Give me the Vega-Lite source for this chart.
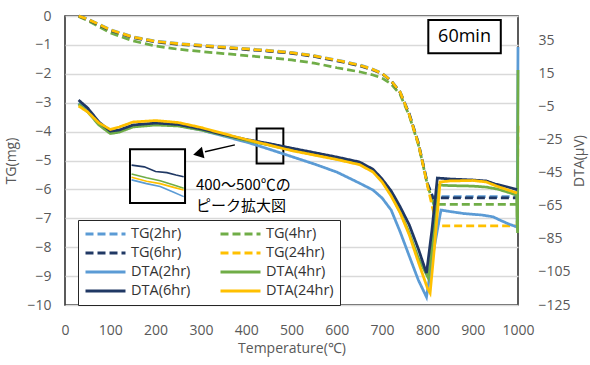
{
  "$schema": "https://vega.github.io/schema/vega-lite/v6.json",
  "width": 453,
  "height": 289,
  "autosize": {"type": "none"},
  "padding": {"left": 65, "top": 16, "right": 72, "bottom": 60},
  "background": "white",
  "config": {
    "view": {"stroke": "#262626", "strokeWidth": 1.5},
    "font": "Open Sans",
    "axis": {"labelFont": "Open Sans", "labelFontSize": 14, "labelColor": "#595959", "titleFont": "Open Sans", "titleFontSize": 14, "titleFontWeight": "normal", "titleColor": "#595959", "ticks": false, "domain": false, "labelFlush": false},
    "legend": {"orient": "none", "legendX": 13, "legendY": 204, "direction": "horizontal", "columns": 2, "symbolType": "stroke", "symbolSize": 1600, "clipHeight": 16, "symbolStrokeWidth": 3, "labelFont": "Open Sans", "labelFontSize": 14.5, "labelColor": "#333333", "strokeColor": "#262626", "fillColor": "white", "padding": 6, "rowPadding": 3, "columnPadding": 28, "labelOffset": 4, "labelLimit": 200}
  },
  "datasets": {
    "tg": [
      {"T": 30, "TG": 0, "series": "TG(2hr)"}, {"T": 50, "TG": -0.1, "series": "TG(2hr)"}, {"T": 100, "TG": -0.47, "series": "TG(2hr)"}, {"T": 150, "TG": -0.72, "series": "TG(2hr)"}, {"T": 200, "TG": -0.87, "series": "TG(2hr)"}, {"T": 250, "TG": -0.95, "series": "TG(2hr)"}, {"T": 300, "TG": -1.01, "series": "TG(2hr)"}, {"T": 350, "TG": -1.07, "series": "TG(2hr)"}, {"T": 400, "TG": -1.13, "series": "TG(2hr)"}, {"T": 450, "TG": -1.19, "series": "TG(2hr)"}, {"T": 500, "TG": -1.26, "series": "TG(2hr)"}, {"T": 550, "TG": -1.37, "series": "TG(2hr)"}, {"T": 600, "TG": -1.52, "series": "TG(2hr)"}, {"T": 650, "TG": -1.69, "series": "TG(2hr)"}, {"T": 680, "TG": -1.84, "series": "TG(2hr)"}, {"T": 700, "TG": -1.98, "series": "TG(2hr)"}, {"T": 720, "TG": -2.23, "series": "TG(2hr)"}, {"T": 740, "TG": -2.63, "series": "TG(2hr)"}, {"T": 760, "TG": -3.38, "series": "TG(2hr)"}, {"T": 780, "TG": -4.38, "series": "TG(2hr)"}, {"T": 790, "TG": -5.08, "series": "TG(2hr)"}, {"T": 800, "TG": -5.78, "series": "TG(2hr)"}, {"T": 812, "TG": -6.25, "series": "TG(2hr)"}, {"T": 1000, "TG": -6.25, "series": "TG(2hr)"},
      {"T": 30, "TG": -0.02, "series": "TG(4hr)"}, {"T": 50, "TG": -0.16, "series": "TG(4hr)"}, {"T": 100, "TG": -0.58, "series": "TG(4hr)"}, {"T": 150, "TG": -0.86, "series": "TG(4hr)"}, {"T": 200, "TG": -1.04, "series": "TG(4hr)"}, {"T": 250, "TG": -1.15, "series": "TG(4hr)"}, {"T": 300, "TG": -1.23, "series": "TG(4hr)"}, {"T": 350, "TG": -1.3, "series": "TG(4hr)"}, {"T": 400, "TG": -1.37, "series": "TG(4hr)"}, {"T": 450, "TG": -1.44, "series": "TG(4hr)"}, {"T": 500, "TG": -1.52, "series": "TG(4hr)"}, {"T": 550, "TG": -1.63, "series": "TG(4hr)"}, {"T": 600, "TG": -1.79, "series": "TG(4hr)"}, {"T": 650, "TG": -1.93, "series": "TG(4hr)"}, {"T": 680, "TG": -2.04, "series": "TG(4hr)"}, {"T": 700, "TG": -2.15, "series": "TG(4hr)"}, {"T": 720, "TG": -2.35, "series": "TG(4hr)"}, {"T": 740, "TG": -2.72, "series": "TG(4hr)"}, {"T": 760, "TG": -3.45, "series": "TG(4hr)"}, {"T": 780, "TG": -4.45, "series": "TG(4hr)"}, {"T": 790, "TG": -5.12, "series": "TG(4hr)"}, {"T": 800, "TG": -5.85, "series": "TG(4hr)"}, {"T": 814, "TG": -6.52, "series": "TG(4hr)"}, {"T": 1000, "TG": -6.52, "series": "TG(4hr)"},
      {"T": 30, "TG": 0, "series": "TG(6hr)"}, {"T": 50, "TG": -0.12, "series": "TG(6hr)"}, {"T": 100, "TG": -0.5, "series": "TG(6hr)"}, {"T": 150, "TG": -0.75, "series": "TG(6hr)"}, {"T": 200, "TG": -0.9, "series": "TG(6hr)"}, {"T": 250, "TG": -0.98, "series": "TG(6hr)"}, {"T": 300, "TG": -1.04, "series": "TG(6hr)"}, {"T": 350, "TG": -1.1, "series": "TG(6hr)"}, {"T": 400, "TG": -1.16, "series": "TG(6hr)"}, {"T": 450, "TG": -1.22, "series": "TG(6hr)"}, {"T": 500, "TG": -1.29, "series": "TG(6hr)"}, {"T": 550, "TG": -1.4, "series": "TG(6hr)"}, {"T": 600, "TG": -1.55, "series": "TG(6hr)"}, {"T": 650, "TG": -1.72, "series": "TG(6hr)"}, {"T": 680, "TG": -1.87, "series": "TG(6hr)"}, {"T": 700, "TG": -2.0, "series": "TG(6hr)"}, {"T": 720, "TG": -2.25, "series": "TG(6hr)"}, {"T": 740, "TG": -2.65, "series": "TG(6hr)"}, {"T": 760, "TG": -3.4, "series": "TG(6hr)"}, {"T": 780, "TG": -4.4, "series": "TG(6hr)"}, {"T": 790, "TG": -5.1, "series": "TG(6hr)"}, {"T": 800, "TG": -5.8, "series": "TG(6hr)"}, {"T": 812, "TG": -6.29, "series": "TG(6hr)"}, {"T": 1000, "TG": -6.29, "series": "TG(6hr)"},
      {"T": 30, "TG": 0, "series": "TG(24hr)"}, {"T": 50, "TG": -0.11, "series": "TG(24hr)"}, {"T": 100, "TG": -0.48, "series": "TG(24hr)"}, {"T": 150, "TG": -0.73, "series": "TG(24hr)"}, {"T": 200, "TG": -0.88, "series": "TG(24hr)"}, {"T": 250, "TG": -0.96, "series": "TG(24hr)"}, {"T": 300, "TG": -1.02, "series": "TG(24hr)"}, {"T": 350, "TG": -1.08, "series": "TG(24hr)"}, {"T": 400, "TG": -1.14, "series": "TG(24hr)"}, {"T": 450, "TG": -1.2, "series": "TG(24hr)"}, {"T": 500, "TG": -1.27, "series": "TG(24hr)"}, {"T": 550, "TG": -1.38, "series": "TG(24hr)"}, {"T": 600, "TG": -1.53, "series": "TG(24hr)"}, {"T": 650, "TG": -1.7, "series": "TG(24hr)"}, {"T": 680, "TG": -1.85, "series": "TG(24hr)"}, {"T": 700, "TG": -1.99, "series": "TG(24hr)"}, {"T": 720, "TG": -2.24, "series": "TG(24hr)"}, {"T": 740, "TG": -2.64, "series": "TG(24hr)"}, {"T": 760, "TG": -3.42, "series": "TG(24hr)"}, {"T": 780, "TG": -4.42, "series": "TG(24hr)"}, {"T": 790, "TG": -5.12, "series": "TG(24hr)"}, {"T": 800, "TG": -5.85, "series": "TG(24hr)"}, {"T": 810, "TG": -6.55, "series": "TG(24hr)"}, {"T": 818, "TG": -7.05, "series": "TG(24hr)"}, {"T": 826, "TG": -7.26, "series": "TG(24hr)"}, {"T": 998, "TG": -7.26, "series": "TG(24hr)"}, {"T": 1000, "TG": -3.8, "series": "TG(24hr)"}
    ],
    "dta": [
      {"T": 30, "DTA": -2.7, "series": "DTA(2hr)"}, {"T": 50, "DTA": -7.5, "series": "DTA(2hr)"}, {"T": 75, "DTA": -15.4, "series": "DTA(2hr)"}, {"T": 100, "DTA": -20.6, "series": "DTA(2hr)"}, {"T": 120, "DTA": -19.7, "series": "DTA(2hr)"}, {"T": 150, "DTA": -16.6, "series": "DTA(2hr)"}, {"T": 200, "DTA": -15.4, "series": "DTA(2hr)"}, {"T": 250, "DTA": -16.3, "series": "DTA(2hr)"}, {"T": 300, "DTA": -19.0, "series": "DTA(2hr)"}, {"T": 350, "DTA": -22.7, "series": "DTA(2hr)"}, {"T": 400, "DTA": -26.3, "series": "DTA(2hr)"}, {"T": 450, "DTA": -30.6, "series": "DTA(2hr)"}, {"T": 500, "DTA": -35.1, "series": "DTA(2hr)"}, {"T": 550, "DTA": -39.6, "series": "DTA(2hr)"}, {"T": 600, "DTA": -44.5, "series": "DTA(2hr)"}, {"T": 650, "DTA": -51.2, "series": "DTA(2hr)"}, {"T": 680, "DTA": -55.4, "series": "DTA(2hr)"}, {"T": 700, "DTA": -60.2, "series": "DTA(2hr)"}, {"T": 720, "DTA": -67.5, "series": "DTA(2hr)"}, {"T": 740, "DTA": -80.8, "series": "DTA(2hr)"}, {"T": 760, "DTA": -95.4, "series": "DTA(2hr)"}, {"T": 780, "DTA": -109.9, "series": "DTA(2hr)"}, {"T": 798, "DTA": -120.2, "series": "DTA(2hr)"}, {"T": 812, "DTA": -94.8, "series": "DTA(2hr)"}, {"T": 830, "DTA": -67.5, "series": "DTA(2hr)"}, {"T": 850, "DTA": -68.4, "series": "DTA(2hr)"}, {"T": 880, "DTA": -69.6, "series": "DTA(2hr)"}, {"T": 920, "DTA": -70.5, "series": "DTA(2hr)"}, {"T": 945, "DTA": -71.6, "series": "DTA(2hr)"}, {"T": 960, "DTA": -73.6, "series": "DTA(2hr)"}, {"T": 980, "DTA": -76.0, "series": "DTA(2hr)"}, {"T": 998, "DTA": -77.8, "series": "DTA(2hr)"}, {"T": 1000, "DTA": 31.2, "series": "DTA(2hr)"},
      {"T": 30, "DTA": -3.3, "series": "DTA(4hr)"}, {"T": 50, "DTA": -8.1, "series": "DTA(4hr)"}, {"T": 75, "DTA": -16.0, "series": "DTA(4hr)"}, {"T": 100, "DTA": -21.2, "series": "DTA(4hr)"}, {"T": 120, "DTA": -20.3, "series": "DTA(4hr)"}, {"T": 150, "DTA": -17.2, "series": "DTA(4hr)"}, {"T": 200, "DTA": -16.0, "series": "DTA(4hr)"}, {"T": 250, "DTA": -16.6, "series": "DTA(4hr)"}, {"T": 300, "DTA": -19.0, "series": "DTA(4hr)"}, {"T": 350, "DTA": -22.1, "series": "DTA(4hr)"}, {"T": 400, "DTA": -25.4, "series": "DTA(4hr)"}, {"T": 450, "DTA": -28.1, "series": "DTA(4hr)"}, {"T": 500, "DTA": -31.2, "series": "DTA(4hr)"}, {"T": 550, "DTA": -33.9, "series": "DTA(4hr)"}, {"T": 600, "DTA": -36.6, "series": "DTA(4hr)"}, {"T": 650, "DTA": -39.6, "series": "DTA(4hr)"}, {"T": 680, "DTA": -43.8, "series": "DTA(4hr)"}, {"T": 700, "DTA": -49.9, "series": "DTA(4hr)"}, {"T": 720, "DTA": -58.4, "series": "DTA(4hr)"}, {"T": 740, "DTA": -68.7, "series": "DTA(4hr)"}, {"T": 760, "DTA": -81.4, "series": "DTA(4hr)"}, {"T": 780, "DTA": -96.6, "series": "DTA(4hr)"}, {"T": 802, "DTA": -108.7, "series": "DTA(4hr)"}, {"T": 812, "DTA": -85.7, "series": "DTA(4hr)"}, {"T": 826, "DTA": -52.4, "series": "DTA(4hr)"}, {"T": 850, "DTA": -52.7, "series": "DTA(4hr)"}, {"T": 900, "DTA": -53.0, "series": "DTA(4hr)"}, {"T": 930, "DTA": -53.6, "series": "DTA(4hr)"}, {"T": 955, "DTA": -54.8, "series": "DTA(4hr)"}, {"T": 980, "DTA": -56.9, "series": "DTA(4hr)"}, {"T": 997, "DTA": -58.4, "series": "DTA(4hr)"}, {"T": 999, "DTA": -81.4, "series": "DTA(4hr)"}, {"T": 1000, "DTA": 17.3, "series": "DTA(4hr)"},
      {"T": 30, "DTA": -0.9, "series": "DTA(6hr)"}, {"T": 50, "DTA": -5.7, "series": "DTA(6hr)"}, {"T": 75, "DTA": -14.2, "series": "DTA(6hr)"}, {"T": 100, "DTA": -19.7, "series": "DTA(6hr)"}, {"T": 120, "DTA": -19.0, "series": "DTA(6hr)"}, {"T": 150, "DTA": -16.0, "series": "DTA(6hr)"}, {"T": 200, "DTA": -14.8, "series": "DTA(6hr)"}, {"T": 250, "DTA": -15.7, "series": "DTA(6hr)"}, {"T": 300, "DTA": -18.4, "series": "DTA(6hr)"}, {"T": 350, "DTA": -21.8, "series": "DTA(6hr)"}, {"T": 400, "DTA": -24.8, "series": "DTA(6hr)"}, {"T": 450, "DTA": -27.2, "series": "DTA(6hr)"}, {"T": 500, "DTA": -30.0, "series": "DTA(6hr)"}, {"T": 550, "DTA": -32.7, "series": "DTA(6hr)"}, {"T": 600, "DTA": -35.4, "series": "DTA(6hr)"}, {"T": 650, "DTA": -38.4, "series": "DTA(6hr)"}, {"T": 680, "DTA": -42.8, "series": "DTA(6hr)"}, {"T": 700, "DTA": -48.7, "series": "DTA(6hr)"}, {"T": 720, "DTA": -55.9, "series": "DTA(6hr)"}, {"T": 740, "DTA": -65.6, "series": "DTA(6hr)"}, {"T": 760, "DTA": -76.5, "series": "DTA(6hr)"}, {"T": 780, "DTA": -91.0, "series": "DTA(6hr)"}, {"T": 798, "DTA": -105.7, "series": "DTA(6hr)"}, {"T": 810, "DTA": -79.6, "series": "DTA(6hr)"}, {"T": 822, "DTA": -48.1, "series": "DTA(6hr)"}, {"T": 850, "DTA": -48.7, "series": "DTA(6hr)"}, {"T": 900, "DTA": -49.3, "series": "DTA(6hr)"}, {"T": 930, "DTA": -49.9, "series": "DTA(6hr)"}, {"T": 950, "DTA": -51.8, "series": "DTA(6hr)"}, {"T": 975, "DTA": -53.4, "series": "DTA(6hr)"}, {"T": 998, "DTA": -55.1, "series": "DTA(6hr)"},
      {"T": 30, "DTA": -4.5, "series": "DTA(24hr)"}, {"T": 50, "DTA": -8.1, "series": "DTA(24hr)"}, {"T": 75, "DTA": -14.8, "series": "DTA(24hr)"}, {"T": 100, "DTA": -18.7, "series": "DTA(24hr)"}, {"T": 120, "DTA": -17.2, "series": "DTA(24hr)"}, {"T": 150, "DTA": -14.2, "series": "DTA(24hr)"}, {"T": 200, "DTA": -13.3, "series": "DTA(24hr)"}, {"T": 250, "DTA": -14.5, "series": "DTA(24hr)"}, {"T": 300, "DTA": -17.5, "series": "DTA(24hr)"}, {"T": 350, "DTA": -21.2, "series": "DTA(24hr)"}, {"T": 400, "DTA": -24.8, "series": "DTA(24hr)"}, {"T": 450, "DTA": -28.1, "series": "DTA(24hr)"}, {"T": 500, "DTA": -31.5, "series": "DTA(24hr)"}, {"T": 550, "DTA": -34.2, "series": "DTA(24hr)"}, {"T": 600, "DTA": -36.9, "series": "DTA(24hr)"}, {"T": 650, "DTA": -40.0, "series": "DTA(24hr)"}, {"T": 680, "DTA": -44.5, "series": "DTA(24hr)"}, {"T": 700, "DTA": -50.5, "series": "DTA(24hr)"}, {"T": 720, "DTA": -59.0, "series": "DTA(24hr)"}, {"T": 740, "DTA": -69.3, "series": "DTA(24hr)"}, {"T": 760, "DTA": -82.6, "series": "DTA(24hr)"}, {"T": 780, "DTA": -99.0, "series": "DTA(24hr)"}, {"T": 800, "DTA": -114.7, "series": "DTA(24hr)"}, {"T": 806, "DTA": -117.8, "series": "DTA(24hr)"}, {"T": 815, "DTA": -91.7, "series": "DTA(24hr)"}, {"T": 828, "DTA": -50.5, "series": "DTA(24hr)"}, {"T": 850, "DTA": -49.9, "series": "DTA(24hr)"}, {"T": 900, "DTA": -49.6, "series": "DTA(24hr)"}, {"T": 930, "DTA": -50.5, "series": "DTA(24hr)"}, {"T": 950, "DTA": -52.7, "series": "DTA(24hr)"}, {"T": 975, "DTA": -55.1, "series": "DTA(24hr)"}, {"T": 998, "DTA": -57.2, "series": "DTA(24hr)"}
    ],
    "inset": [
      {"T": 147, "TG": -5.16, "series": "DTA(6hr)"}, {"T": 175, "TG": -5.22, "series": "DTA(6hr)"}, {"T": 200, "TG": -5.38, "series": "DTA(6hr)"}, {"T": 225, "TG": -5.42, "series": "DTA(6hr)"}, {"T": 245, "TG": -5.5, "series": "DTA(6hr)"}, {"T": 262, "TG": -5.56, "series": "DTA(6hr)"},
      {"T": 147, "TG": -5.47, "series": "DTA(4hr)"}, {"T": 180, "TG": -5.6, "series": "DTA(4hr)"}, {"T": 210, "TG": -5.7, "series": "DTA(4hr)"}, {"T": 240, "TG": -5.85, "series": "DTA(4hr)"}, {"T": 262, "TG": -5.96, "series": "DTA(4hr)"},
      {"T": 147, "TG": -5.58, "series": "DTA(24hr)"}, {"T": 180, "TG": -5.72, "series": "DTA(24hr)"}, {"T": 210, "TG": -5.8, "series": "DTA(24hr)"}, {"T": 240, "TG": -5.93, "series": "DTA(24hr)"}, {"T": 262, "TG": -6.02, "series": "DTA(24hr)"},
      {"T": 147, "TG": -5.67, "series": "DTA(2hr)"}, {"T": 180, "TG": -5.8, "series": "DTA(2hr)"}, {"T": 210, "TG": -5.9, "series": "DTA(2hr)"}, {"T": 240, "TG": -6.1, "series": "DTA(2hr)"}, {"T": 262, "TG": -6.25, "series": "DTA(2hr)"}
    ]
  },
  "encoding": {
    "x": {"field": "T", "type": "quantitative", "scale": {"domain": [0, 1000], "nice": false, "zero": false}, "axis": {"values": [0, 100, 200, 300, 400, 500, 600, 700, 800, 900, 1000], "format": "d", "title": "Temperature(℃)", "grid": false, "labelFlush": false, "labelPadding": 18, "titlePadding": 4}}
  },
  "layer": [
    {
      "encoding": {
        "y": {"field": "TG", "type": "quantitative", "scale": {"domain": [-10, 0], "nice": false, "zero": false}, "axis": {"values": [-10, -9, -8, -7, -6, -5, -4, -3, -2, -1, 0], "title": "TG(mg)", "grid": true, "gridColor": "#D9D9D9", "gridWidth": 1.5, "labelFlush": false, "labelPadding": 14, "titlePadding": 8}}
      },
      "layer": [
        {
          "data": {"name": "tg"},
          "mark": {"type": "line", "strokeWidth": 2.75},
          "encoding": {
            "color": {"field": "series", "type": "nominal", "title": null, "scale": {"domain": ["TG(2hr)", "TG(4hr)", "TG(6hr)", "TG(24hr)", "DTA(2hr)", "DTA(4hr)", "DTA(6hr)", "DTA(24hr)"], "range": ["#5B9BD5", "#70AD47", "#203864", "#FFC000", "#5B9BD5", "#70AD47", "#203864", "#FFC000"]}},
            "strokeDash": {"field": "series", "type": "nominal", "title": null, "scale": {"domain": ["TG(2hr)", "TG(4hr)", "TG(6hr)", "TG(24hr)", "DTA(2hr)", "DTA(4hr)", "DTA(6hr)", "DTA(24hr)"], "range": [[8, 4], [8, 4], [8, 4], [8, 4], [1, 0], [1, 0], [1, 0], [1, 0]]}}
          }
        },
        {
          "data": {"values": [{"T": 423, "T2": 482, "TG": -3.89, "TG2": -5.1}]},
          "mark": {"type": "rect", "fill": null, "fillOpacity": 0, "stroke": "#000000", "strokeWidth": 2},
          "encoding": {
            "x2": {"field": "T2"},
            "y2": {"field": "TG2"}
          }
        },
        {
          "data": {"values": [{"T": 143.5, "T2": 265, "TG": -4.61, "TG2": -6.47}, {"T": 802, "T2": 962, "TG": -0.14, "TG2": -1.29}]},
          "mark": {"type": "rect", "fill": "white", "stroke": "#000000", "strokeWidth": 2},
          "encoding": {
            "x2": {"field": "T2"},
            "y2": {"field": "TG2"}
          }
        },
        {
          "data": {"name": "inset"},
          "mark": {"type": "line", "strokeWidth": 1.6},
          "encoding": {
            "color": {"field": "series", "type": "nominal", "title": null},
            "detail": {"field": "series"}
          }
        },
        {
          "data": {"values": [{"T": 375, "T2": 309, "TG": -4.46, "TG2": -4.7}]},
          "mark": {"type": "rule", "stroke": "#000000", "strokeWidth": 1.5},
          "encoding": {
            "x2": {"field": "T2"},
            "y2": {"field": "TG2"}
          }
        },
        {
          "data": {"values": [{"T": 294, "TG": -4.76}]},
          "mark": {"type": "point", "shape": "triangle-left", "filled": true, "fill": "#000000", "stroke": null, "opacity": 1, "size": 140, "angle": -12.5}
        },
        {
          "data": {"values": [{"T": 882, "TG": -0.72, "label": "60min"}]},
          "mark": {"type": "text", "font": "Open Sans", "fontSize": 18, "color": "#000000", "align": "center", "baseline": "middle"},
          "encoding": {
            "text": {"field": "label"}
          }
        },
        {
          "data": {"values": [{"T": 289, "TG": -5.85, "label": "400～500℃の"}, {"T": 289, "TG": -6.57, "label": "ピーク拡大図"}]},
          "mark": {"type": "text", "font": "Noto Sans CJK JP", "fontSize": 15, "color": "#000000", "align": "left", "baseline": "middle"},
          "encoding": {
            "text": {"field": "label"}
          }
        }
      ]
    },
    {
      "data": {"name": "dta"},
      "mark": {"type": "line", "strokeWidth": 2.75},
      "encoding": {
        "y": {"field": "DTA", "type": "quantitative", "scale": {"domain": [-125, 50], "nice": false, "zero": false}, "axis": {"orient": "right", "values": [-125, -105, -85, -65, -45, -25, -5, 15, 35], "title": "DTA(μV)", "titleAngle": 270, "grid": false, "labelFlush": false, "labelPadding": 20, "titlePadding": 16}},
        "color": {"field": "series", "type": "nominal", "title": null},
        "strokeDash": {"field": "series", "type": "nominal", "title": null}
      }
    }
  ],
  "resolve": {"scale": {"y": "independent"}}
}
